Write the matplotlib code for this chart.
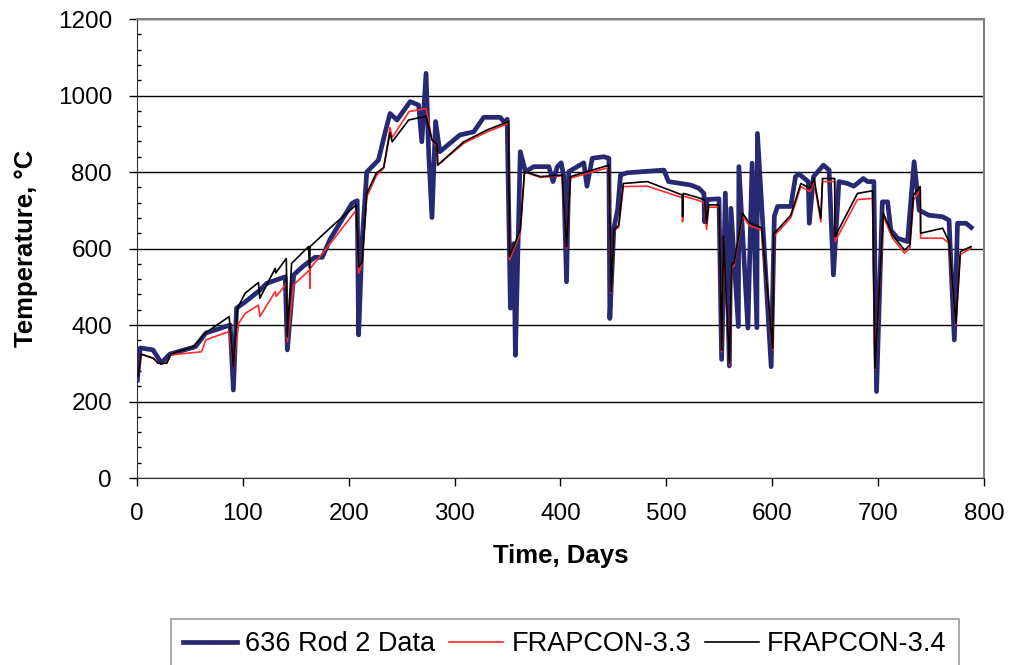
import matplotlib
matplotlib.use("Agg")
import matplotlib.pyplot as plt
from matplotlib.ticker import MultipleLocator

plt.rcParams['font.family'] = ['Liberation Sans', 'DejaVu Sans']

# 636 Rod 2 measured data (days, deg C)
data_days = [0.3, 3, 15, 23, 31, 55, 65, 88, 91, 94, 102, 116, 122.6, 140, 142, 148, 157, 168, 175,
             182.5, 203, 208, 209.3, 212.5, 217, 228, 234.5, 239, 245.6, 258, 266, 269, 273, 275.5,
             278.6, 282, 286, 305, 318, 327.5, 343, 348, 349.6, 352.7, 356, 357.4, 362, 367, 374.7,
             389, 393, 397, 400.6, 403, 405.7, 407.8, 422, 425, 430, 441, 445.7, 446.6, 450.4, 454,
             456.7, 463, 497.7, 502, 523, 531, 535.5, 536, 538.7, 549.7, 552.2, 555.7, 559.5, 561,
             568, 568.5, 577, 581, 585.5, 586, 599, 602, 605, 617.5, 622, 625.3, 634, 635, 639,
             648.4, 653.7, 657.8, 663, 671, 677, 686, 690, 696, 698.5, 704, 709, 712, 718.4, 727.8,
             734, 738.8, 748, 761, 767, 772, 775, 783, 788]
data_temp = [256, 340, 335, 301, 324, 343, 379, 400, 230, 444, 460, 491, 509, 526, 335, 531, 554, 577, 577,
             625, 718, 725, 374, 613, 800, 831, 905, 953, 936, 984, 975, 879, 1058, 849,
             681, 932, 853, 897, 905, 943, 943, 927, 938, 444, 613, 321, 853, 801, 814,
             814, 775, 814, 824, 790, 513, 801, 824, 763, 836, 840, 836, 417, 653, 702,
             792, 798, 805, 775, 766, 757, 744, 670, 728, 730, 310, 745, 293, 705,
             396, 814, 392, 823, 393, 901, 291, 685, 710, 710, 788, 795, 775, 666, 788,
             818, 805, 531, 775, 770, 763, 783, 775, 775, 226, 722, 722, 648, 627, 618,
             827, 700, 687, 683, 674, 361, 666, 666, 655]

# FRAPCON-3.3
f33_days = [1, 3.8, 15.4, 20, 28, 32, 61, 65, 87, 91, 96, 102, 114.7, 116, 130.5, 131.5, 141.5, 142,
            148, 163, 163.3, 163.6, 182.5, 207, 209.3, 212.5, 217, 226, 233, 239, 241, 257, 273,
            278.6, 283.4, 284, 308.6, 330.7, 351, 351.8, 362, 366, 381, 401.6, 405.7, 409.5, 445.7,
            448, 450.4, 455, 459.3, 482, 515, 515.3, 516, 529, 536, 538, 540, 549.8, 552.2, 554,
            559.5, 561.7, 564, 572, 578.3, 590, 600.5, 601.4, 617.5, 627, 635.7, 639.5, 645.9,
            647.5, 659, 659.3, 680.5, 694.8, 697, 705, 713.6, 725, 730, 733.5, 739.8, 740.2, 761,
            767, 773.5, 777.7, 787.7]
f33_temp = [270, 324, 313, 300, 300, 322, 330, 361, 383, 291, 404, 430, 452, 422, 487, 475, 509, 356,
            505, 544, 496, 548, 613, 700, 535, 560, 735, 790, 810, 916, 890, 958, 966,
            884, 866, 818, 875, 905, 927, 570, 640, 800, 786, 790, 600, 784, 812,
            483, 648, 655, 762, 763, 733, 670, 737, 727, 719, 650, 708, 708, 330, 625,
            295, 550, 555, 685, 660, 648, 335, 632, 680, 762, 749, 775, 670,
            775, 775, 618, 728, 731, 285, 685, 627, 588, 601, 727, 753, 627, 627,
            614, 400, 584, 601]

# FRAPCON-3.4
f34_days = [1, 3.8, 15.4, 20, 28, 32, 53, 65, 87, 91, 95, 102, 114.7, 116, 130.5, 131, 141, 142, 146,
            162, 163, 163.5, 182.5, 207, 209.3, 212.5, 217, 226, 233, 239, 241, 256.6, 273, 278.6,
            283.4, 284, 308.6, 330.7, 351, 351.8, 362, 366, 381, 401.6, 405.7, 409.5, 445.7, 448,
            450.4, 455, 459.3, 482, 515, 515.3, 516, 529, 536, 538, 540, 549.8, 552.2, 554, 559.5,
            561.7, 564, 572, 578.3, 590, 600.5, 601.4, 617.5, 627, 635.7, 639.5, 645.9, 647.5, 659,
            659.3, 680.5, 694.8, 697, 705, 713.6, 725, 730, 733.5, 739.8, 740.2, 761, 767, 773.5,
            777.7, 787.7]
f34_temp = [268, 324, 313, 300, 300, 324, 343, 380, 422, 291, 444, 483, 511, 470, 548, 536, 574, 369, 561,
            605, 549, 605, 654, 714, 552, 562, 744, 797, 812, 903, 879, 936, 946, 884,
            871, 818, 879, 910, 932, 579, 648, 801, 788, 792, 605, 788, 818, 487,
            648, 661, 770, 775, 740, 683, 744, 734, 727, 666, 714, 714, 335, 632, 300,
            557, 563, 692, 667, 654, 339, 638, 687, 770, 757, 783, 679, 783, 783,
            631, 744, 751, 287, 692, 635, 596, 609, 740, 762, 640, 653, 618, 404,
            592, 605]

fig = plt.figure(figsize=(10.12, 6.65), dpi=100)
ax = fig.add_axes([0.1354, 0.2812, 0.8369, 0.6902])

ax.plot(data_days, data_temp, color='#272a72', lw=3.4, label='636 Rod 2 Data', zorder=3)
ax.plot(f33_days, f33_temp, color='#ff2a2a', lw=1.2, label='FRAPCON-3.3', zorder=4)
ax.plot(f34_days, f34_temp, color='black', lw=1.2, label='FRAPCON-3.4', zorder=5)

ax.set_xlim(0, 800)
ax.set_ylim(0, 1200)
ax.xaxis.set_major_locator(MultipleLocator(100))
ax.yaxis.set_major_locator(MultipleLocator(200))
ax.yaxis.set_minor_locator(MultipleLocator(40))
ax.tick_params(axis='both', which='major', direction='out', length=6, width=1,
               labelsize=17.5, pad=12)
ax.tick_params(axis='y', which='minor', direction='in', length=3, width=1)
ax.grid(axis='y', which='major', color='black', lw=1)
ax.set_axisbelow(True)
for side in ['top', 'right']:
    ax.spines[side].set_color('#808080')
    ax.spines[side].set_linewidth(1.5)
ax.spines['left'].set_color('#333333')
ax.spines['bottom'].set_color('#333333')

ax.set_xlabel('Time, Days', fontsize=18.5, fontweight='bold', labelpad=14)
ax.set_ylabel('Temperature, \u00b0C', fontsize=18.5, fontweight='bold', labelpad=14)

leg = fig.legend(loc='upper left', bbox_to_anchor=(171 / 1012, 1 - 619 / 665), ncol=3,
                 fontsize=19.5, frameon=True, fancybox=False, edgecolor='#808080',
                 borderaxespad=0, handlelength=2.0, handletextpad=0.3, columnspacing=0.5,
                 borderpad=0.45)
leg.get_frame().set_linewidth(1.2)

fig.savefig('out.png', dpi=100)
